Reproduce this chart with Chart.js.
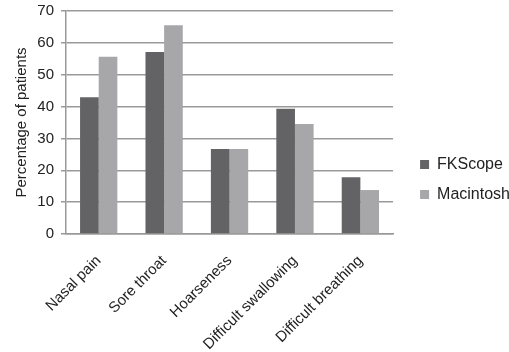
<!DOCTYPE html>
<html><head><meta charset="utf-8">
<script src="https://cdn.jsdelivr.net/npm/chart.js@4/dist/chart.umd.min.js"></script>
<style>html,body{margin:0;padding:0;background:#fff}#wrap{width:509px;height:352px}</style>
</head><body><div id="wrap"><canvas id="c"></canvas></div>
<script>
const categories = ["Nasal pain", "Sore throat", "Hoarseness", "Difficult swallowing", "Difficult breathing"];
const fkscope = [42.9, 57.1, 26.7, 39.3, 17.8];
const macintosh = [55.6, 65.5, 26.7, 34.5, 13.8];
const yTicks = [0, 10, 20, 30, 40, 50, 60, 70];

Chart.defaults.font.family = "'Liberation Sans', Arial, sans-serif";
Chart.defaults.color = "#222";
const legendShift = {
  id: 'legendShift',
  afterLayout(chart) {
    const l = chart.legend;
    if (l) { l.left += 13; l.right += 13; l.top += 3; l.bottom += 3; }
  }
};
new Chart(document.getElementById('c'), {
  type: 'bar',
  data: {
    labels: categories,
    datasets: [
      {label: 'FKScope', data: fkscope, backgroundColor: '#636366', categoryPercentage: 0.57, barPercentage: 1},
      {label: 'Macintosh', data: macintosh, backgroundColor: '#a7a7aa', categoryPercentage: 0.57, barPercentage: 1}
    ]
  },
  plugins: [legendShift],
  options: {
    responsive: true, maintainAspectRatio: false, animation: false,
    layout: {padding: {top: 1, left: 13, right: 2, bottom: 0}},
    plugins: {
      tooltip: {enabled: false},
      legend: {
        position: 'right',
        labels: {boxWidth: 9, boxHeight: 9, padding: 14, font: {size: 16}, color: '#222'}
      }
    },
    scales: {
      x: {
        grid: {display: false, drawTicks: false},
        border: {color: '#999', width: 1.5},
        ticks: {maxRotation: 45, minRotation: 45, font: {size: 15}, color: '#222', padding: 18},
        afterFit: s => { s.height = 118; }
      },
      y: {
        min: 0, max: 70,
        afterBuildTicks: s => { s.ticks = yTicks.map(v => ({value: v})); },
        grid: {color: '#999', lineWidth: 1.5, drawTicks: true, tickLength: 5},
        border: {color: '#999', width: 1.5},
        ticks: {font: {size: 15}, color: '#222', padding: 7},
        title: {display: true, text: 'Percentage of patients', font: {size: 15}, color: '#222', padding: 0},
        afterFit: s => { s.width = 53; s.paddingTop = 11; s.paddingBottom = 2; }
      }
    }
  }
});
</script></body></html>
